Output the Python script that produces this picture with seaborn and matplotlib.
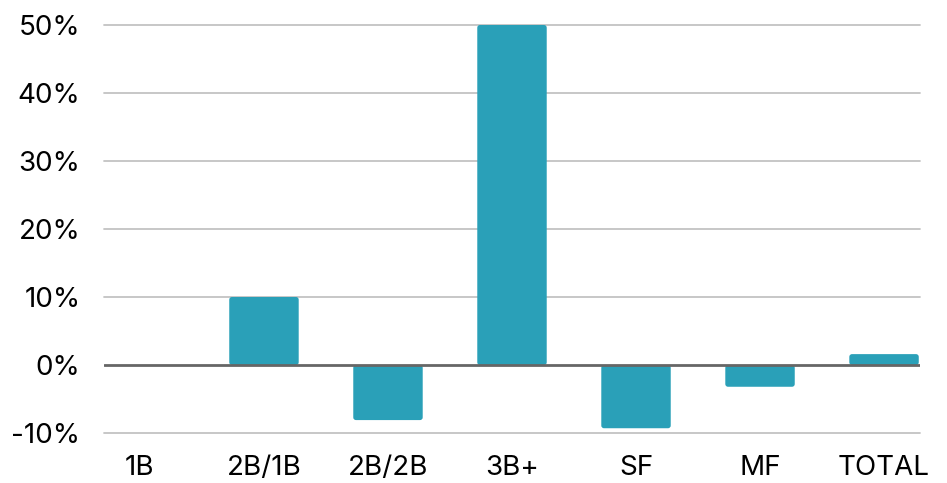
import matplotlib
matplotlib.use("Agg")
import matplotlib.pyplot as plt
from matplotlib.patches import FancyBboxPatch
import seaborn as sns
import pandas as pd

categories = ["1B", "2B/1B", "2B/2B", "3B+", "SF", "MF", "TOTAL"]
change_pct = [0.0, 10.0, -8.1, 50.0, -9.3, -3.2, 1.6]
y_ticks = [-10, 0, 10, 20, 30, 40, 50]

sns.set_theme(style="white")
plt.rcParams["font.family"] = ["Inter", "DejaVu Sans"]

df = pd.DataFrame({"segment": categories, "change": change_pct})

fig = plt.figure(figsize=(9.47, 4.83), dpi=100)
ax = fig.add_axes([104 / 947, 1 - 433 / 483, 816 / 947, 408 / 483])

# gridlines behind the bars
for t in y_ticks:
    if t == 0:
        continue
    ax.axhline(t, color="#c3c3c3", linewidth=1.3, zorder=0, clip_on=False)

sns.barplot(data=df, x="segment", y="change", color="#2aa0b8",
            saturation=1, width=0.56, ax=ax, zorder=2)

ax.set_xlim(-0.29, 6.29)
ax.set_ylim(-10, 50)

# soften bar corners slightly
x_px = 816 / 6.58
y_px = 408 / 60
aspect = x_px / y_px
for p in list(ax.patches):
    x, y = p.get_x(), p.get_y()
    w, h = p.get_width(), p.get_height()
    if h == 0:
        p.remove()
        continue
    y0, hh = (y, h) if h > 0 else (y + h, -h)
    r = FancyBboxPatch((x, y0), w, hh,
                       boxstyle="round,pad=0,rounding_size=0.022",
                       mutation_aspect=aspect,
                       facecolor=p.get_facecolor(), edgecolor="none",
                       linewidth=0, zorder=2)
    p.remove()
    ax.add_patch(r)

ax.axhline(0, color="#666666", linewidth=2, zorder=3)

ax.set_yticks(y_ticks)
ax.set_yticklabels([f"{t}%" for t in y_ticks])
ax.set_xlabel("")
ax.set_ylabel("")
for s in ax.spines.values():
    s.set_visible(False)
ax.tick_params(axis="y", length=0, pad=17, labelsize=20, labelcolor="#000000")
ax.tick_params(axis="x", length=0, pad=16, labelsize=20, labelcolor="#000000")

fig.savefig("out.png", dpi=100, facecolor="white")
